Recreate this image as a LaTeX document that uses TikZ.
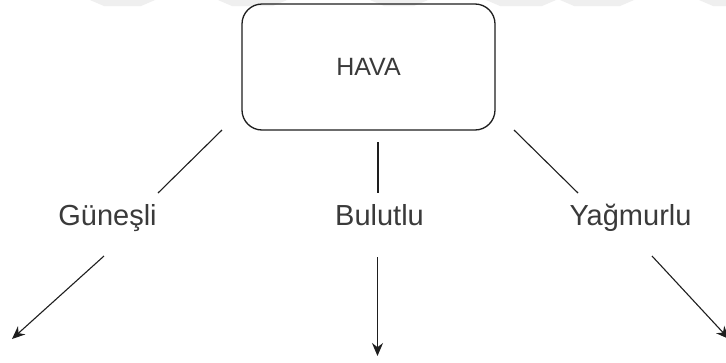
\documentclass[tikz,border=0pt]{standalone}
\usepackage{fontspec}
\setmainfont{Liberation Sans}
\usetikzlibrary{arrows.meta}

\definecolor{inkline}{HTML}{1E1E1E}
\definecolor{inktext}{HTML}{3A3A3A}
\definecolor{faint}{HTML}{EFEFEF}

\tikzset{
  rootbox/.style={draw=inkline, line width=1.3pt, rounded corners=20pt,
    minimum width=253pt, minimum height=126pt, inner sep=0pt,
    text=inktext, font=\fontsize{25}{28}\selectfont},
  branchlabel/.style={anchor=base, inner sep=0pt, text=inktext,
    font=\fontsize{29}{32}\selectfont},
  link/.style={draw=inkline, line width=1.1pt},
  pointer/.style={link, -{Stealth[length=13pt,width=11pt]}}
}

\begin{document}
\begin{tikzpicture}[x=1pt, y=-1pt]
  \useasboundingbox (0,0) rectangle (726,362);
  \fill[white] (0,0) rectangle (726,362);

  % light band along the top edge
  \foreach \a/\b in {90/155, 218/287, 370/428, 486/556, 560/634, 699/740}
    \fill[faint] (\a,0) -- (\b,0) -- (\b-14,6) -- (\a+14,6) -- cycle;

  % root box
  \node[rootbox] (hava) at (368.5,67) {HAVA};

  % branch labels
  \node[branchlabel] (gunesli)  at (107.5,225) {Güneşli};
  \node[branchlabel] (bulutlu)  at (379.5,225) {Bulutlu};
  \node[branchlabel] (yagmurlu) at (630.5,225) {Yağmurlu};

  % connector end points
  \coordinate (gA) at (222,130);  \coordinate (gB) at (158,193);
  \coordinate (gC) at (104,256);  \coordinate (gD) at (12,339);
  \coordinate (bA) at (378,142);  \coordinate (bB) at (378,193);
  \coordinate (bC) at (377.5,257); \coordinate (bD) at (377.5,356);
  \coordinate (yA) at (514,130);  \coordinate (yB) at (578,193);
  \coordinate (yC) at (652,256);  \coordinate (yD) at (729,339);

  % links from the box towards the labels
  \draw[link] (gA) -- (gB);
  \draw[link] (bA) -- (bB);
  \draw[link] (yA) -- (yB);

  % arrows leaving the labels
  \draw[pointer] (gC) -- (gD);
  \draw[pointer] (bC) -- (bD);
  \draw[pointer] (yC) -- (yD);
\end{tikzpicture}
\end{document}
